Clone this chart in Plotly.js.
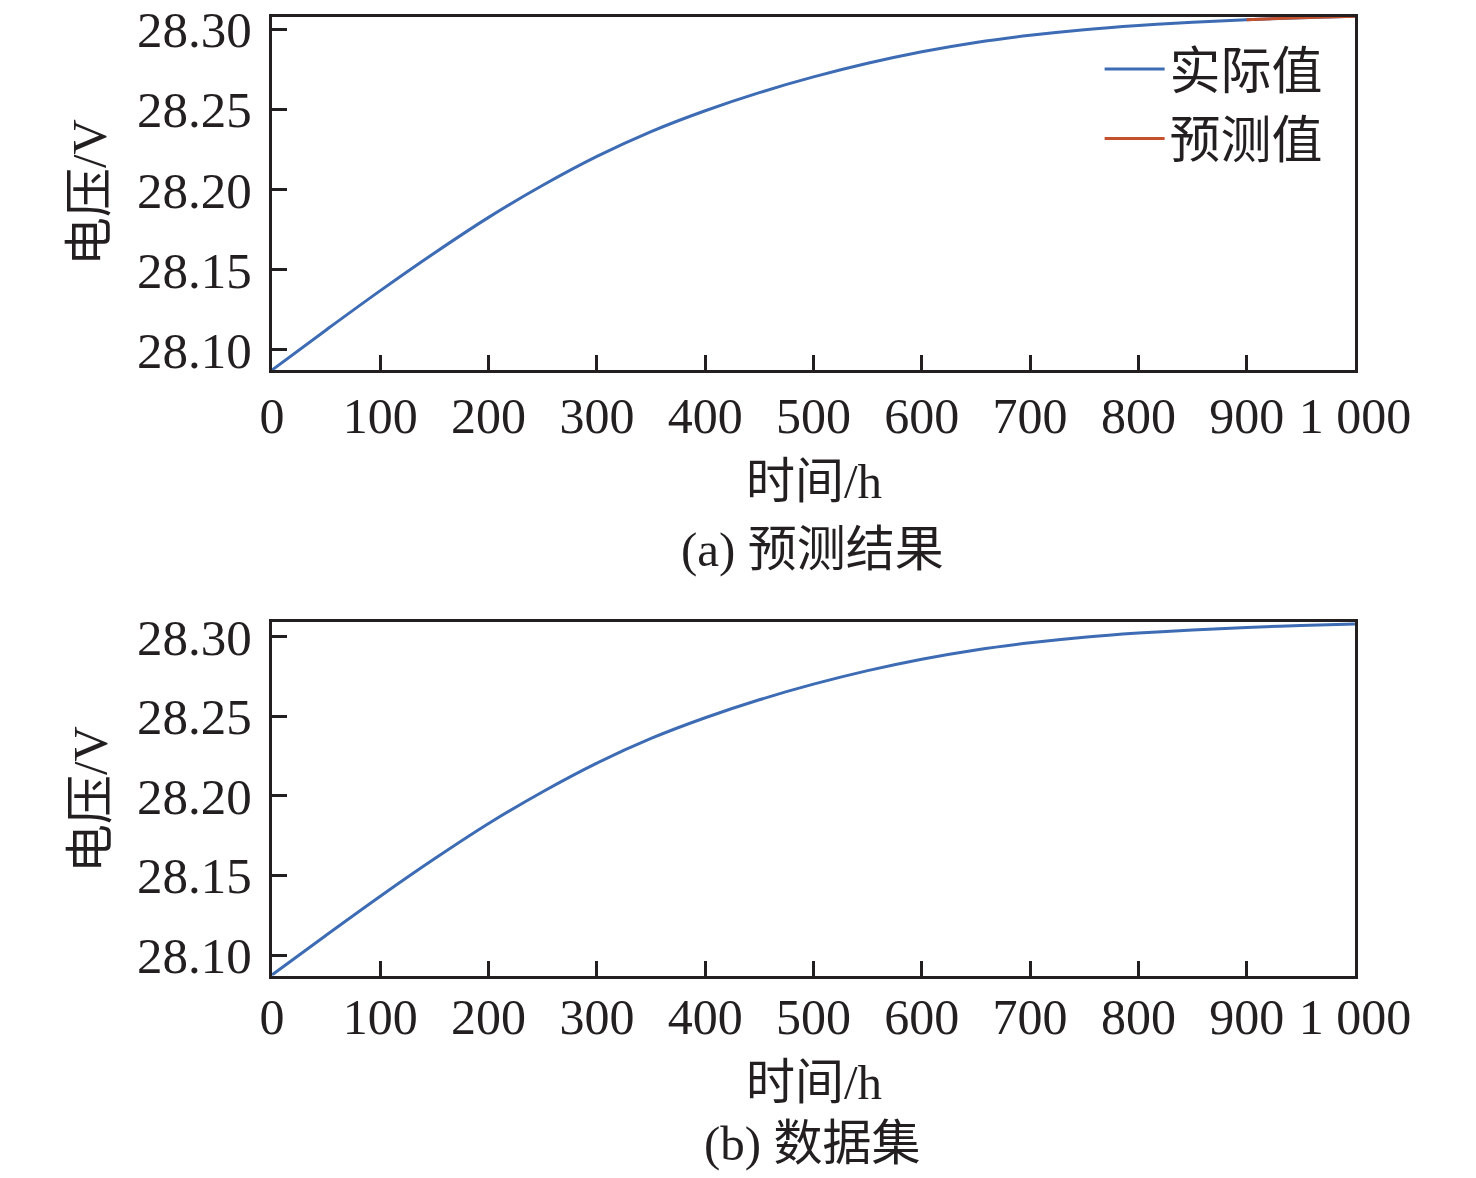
<!DOCTYPE html>
<html>
<head>
<meta charset="utf-8">
<script src="https://cdn.plot.ly/plotly-3.0.1.min.js"></script>
<style>
  html, body { margin: 0; padding: 0; background: #fff; }
  #myDiv { width: 1476px; height: 1178px; }
</style>
</head>
<body>
<div id="myDiv"></div>
<script>
// time in hours
var hours = [0, 50, 100, 150, 200, 250, 300, 350, 400, 450, 500,
             550, 600, 650, 700, 750, 800, 850, 900, 950, 1000];
// measured voltage (V)
var actualV = [28.0875, 28.1125, 28.1370, 28.1605, 28.1827, 28.2027, 28.2207,
               28.2362, 28.2492, 28.2605, 28.2703, 28.2788, 28.2860, 28.2918,
               28.2963, 28.2998, 28.3024, 28.3044, 28.3060, 28.3072, 28.3082];
// predicted part
var predHours = [900, 950, 1000];
var predV = [28.3060, 28.3072, 28.3082];

var xTickVals = [0, 100, 200, 300, 400, 500, 600, 700, 800, 900, 1000];
var xTickText = ["0", "100", "200", "300", "400", "500", "600", "700", "800", "900", "1 000"];
var yTickVals = [28.10, 28.15, 28.20, 28.25, 28.30];

var FONT = "Liberation Serif, 'Noto Sans CJK SC', serif";
var blue = "#3d6cb4";
var red = "#c4502d";

actual = {
    x: hours,
    y: actualV,
    mode: "lines",
    name: "实际值",
    line: {color: blue, width: 3, shape: "spline"},
    type: "scatter",
    xaxis: "x", yaxis: "y"
};

predicted = {
    x: predHours,
    y: predV,
    mode: "lines",
    name: "预测值",
    line: {color: red, width: 3, shape: "spline"},
    type: "scatter",
    xaxis: "x", yaxis: "y"
};

dataset = {
    x: hours,
    y: actualV,
    mode: "lines",
    showlegend: false,
    line: {color: blue, width: 3, shape: "spline"},
    type: "scatter",
    xaxis: "x2", yaxis: "y2"
};

function xax(anchor, dom, standoff) {
    return {
        domain: dom, anchor: anchor, range: [0, 1000],
        tickvals: xTickVals, ticktext: xTickText,
        ticks: "inside", ticklen: 15, tickwidth: 3, tickcolor: "#231f20",
        showline: true, linewidth: 3, linecolor: "#231f20", mirror: true,
        showgrid: false, zeroline: false,
        tickfont: {family: FONT, size: 50, color: "#231f20"},
        ticklabelstandoff: standoff
    };
}
function yax(anchor, rng) {
    return {
        domain: anchor === "x" ? [0.6859, 0.9856] : [0.1717, 0.4720],
        anchor: anchor, range: rng,
        tickvals: yTickVals, tickformat: ".2f",
        ticks: "inside", ticklen: 15, tickwidth: 3, tickcolor: "#231f20",
        showline: true, linewidth: 3, linecolor: "#231f20", mirror: true,
        showgrid: false, zeroline: false,
        tickfont: {family: FONT, size: 51, color: "#231f20"},
        ticklabelstandoff: 7
    };
}

var dom = [0.1843, 0.9180];
var txt = {family: FONT, size: 49, color: "#231f20"};

function note(text, x, y, rot) {
    return {text: text, xref: "paper", yref: "paper", x: x, y: y,
            xanchor: "center", yanchor: "middle", showarrow: false,
            textangle: rot || 0, font: txt};
}

Plotly.newPlot('myDiv', {
    "data": [actual, predicted, dataset],
    "layout": {
        width: 1476,
        height: 1178,
        paper_bgcolor: "#fff",
        plot_bgcolor: "#fff",
        margin: {l: 0, r: 0, t: 0, b: 0},
        xaxis: xax("y", dom, 0),
        yaxis: yax("x", [28.0875, 28.3077]),
        xaxis2: xax("y2", dom, -5),
        yaxis2: yax("x2", [28.087, 28.3094]),
        showlegend: true,
        legend: {
            x: 0.745, y: 0.975, xanchor: "left", yanchor: "top",
            bgcolor: "rgba(0,0,0,0)", borderwidth: 0,
            font: {family: FONT, size: 51, color: "#231f20"},
            itemwidth: 60
        },
        annotations: [
            note("电压/V", 90 / 1476, 1 - 193 / 1178, -90),
            note("时间/h", 814 / 1476, 1 - 482 / 1178),
            note("(a) 预测结果", 812 / 1476, 1 - 549 / 1178),
            note("电压/V", 90 / 1476, 1 - 800 / 1178, -90),
            note("时间/h", 814 / 1476, 1 - 1082 / 1178),
            note("(b) 数据集", 812 / 1476, 1 - 1143 / 1178)
        ],
        hovermode: false
    },
    "config": {
        displayModeBar: false,
        staticPlot: true
    }
});
</script>
</body>
</html>
